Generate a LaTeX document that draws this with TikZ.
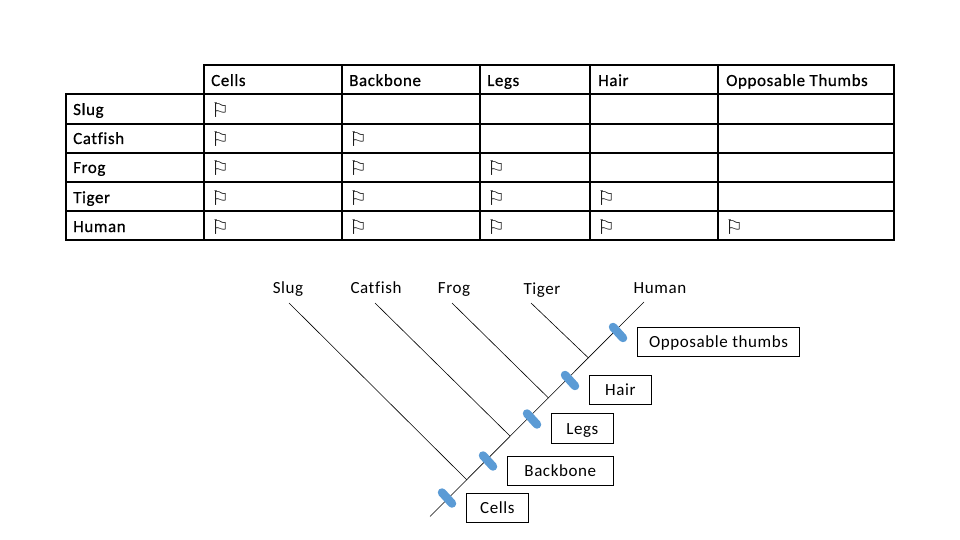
\documentclass[tikz,border=0pt]{standalone}
\usepackage{fontspec}
\setmainfont{Carlito}
\newfontfamily\tablefont[LetterSpace=3.5,FakeBold=0.6,Ligatures=NoCommon]{Carlito}
\newfontfamily\treefont[LetterSpace=3.5,Ligatures=NoCommon]{Carlito}
\newfontfamily\symfont{DejaVu Sans}
\begin{document}
\begin{tikzpicture}[x=1pt,y=-1pt,
  grid/.style={draw=black,line width=1.7pt,line cap=rect},
  hdr/.style={anchor=base west,inner sep=0pt,font=\tablefont\fontsize{17}{20}\selectfont,text=black},
  flagmark/.style={inner sep=0pt,font=\symfont\fontsize{20}{20}\selectfont},
  taxon/.style={anchor=base,inner sep=0pt,font=\treefont\fontsize{17}{20}\selectfont},
  traitbox/.style={draw=black,line width=0.8pt,inner sep=0pt,text height=14pt,text depth=2pt,font=\treefont\fontsize{17}{20}\selectfont},
  branch/.style={draw=black,line width=0.6pt},
  tick/.style={draw=tickblue,line width=8.5pt,line cap=round}]
\definecolor{tickblue}{HTML}{5B9BD5}
\useasboundingbox (0,0) rectangle (960,540);
% table grid
\foreach \y in {94,124,153,182,211,240} \draw[grid] (66,\y) -- (894,\y);
\draw[grid] (204,65) -- (894,65);
\draw[grid] (66,94) -- (66,240);
\foreach \x in {204,342,480,590,718,894} \draw[grid] (\x,65) -- (\x,240);
% headers
\node[hdr] (hcells) at (211,86) {Cells};
\node[hdr] (hback) at (349,86) {Backbone};
\node[hdr] (hlegs) at (487,86) {Legs};
\node[hdr] (hhair) at (598,86) {Hair};
\node[hdr] (hthumb) at (726,86) {Opposable Thumbs};
\node[hdr] (rslug) at (73,115) {Slug};
\node[hdr] (rcat) at (73,144) {Catfish};
\node[hdr] (rfrog) at (73,173) {Frog};
\node[hdr] (rtiger) at (73,203) {Tiger};
\node[hdr] (rhuman) at (73,232) {Human};
% flags
\foreach \n/\x/\y in {a/220/110,b/220/139,c/220/168,d/220/198,e/220/227,
  f/358/139,g/358/168,h/358/198,i/358/227,
  j/496/168,k/496/198,l/496/227,
  m/606/198,n/606/227,o/734/227}
  \node[flagmark] (fl\n) at (\x,\y) {⚐};
% tree labels
\node[taxon] (slug) at (288,293) {Slug};
\node[taxon] (catfish) at (376,293) {Catfish};
\node[taxon] (frog) at (454,293) {Frog};
\node[taxon] (tiger) at (542,294) {Tiger};
\node[taxon] (human) at (660,293) {Human};
% tree
\coordinate (root) at (430,516.5);
\coordinate (tip) at (644,302);
\coordinate (jslug) at (467,480);
\coordinate (jcat) at (510,436);
\coordinate (jfrog) at (548.5,398);
\coordinate (jtiger) at (588.5,358);
\coordinate (eslug) at (289,303);
\coordinate (ecat) at (375,303);
\coordinate (efrog) at (452,303);
\coordinate (etiger) at (531,303);
\draw[branch] (root) -- (tip);
\draw[branch] (eslug) -- (jslug);
\draw[branch] (ecat) -- (jcat);
\draw[branch] (efrog) -- (jfrog);
\draw[branch] (etiger) -- (jtiger);
% ticks
\foreach \x/\y in {447/498,488/461,532/419,570/380.5,618/332.5}
  \draw[tick] (\x-5,\y-5.5) -- (\x+5,\y+5.5);
% trait boxes
\node[traitbox,minimum width=62pt,minimum height=29pt] (bcells) at (497.3,507.7) {Cells};
\node[traitbox,minimum width=106pt,minimum height=29pt] (bback) at (560.3,470.8) {Backbone};
\node[traitbox,minimum width=62pt,minimum height=30pt] (blegs) at (582.3,428.3) {Legs};
\node[traitbox,minimum width=62pt,minimum height=29pt] (bhair) at (620.3,389.8) {Hair};
\node[traitbox,minimum width=162.4pt,minimum height=29pt] (bthumb) at (718.5,341.8) {Opposable thumbs};
\end{tikzpicture}
\end{document}
